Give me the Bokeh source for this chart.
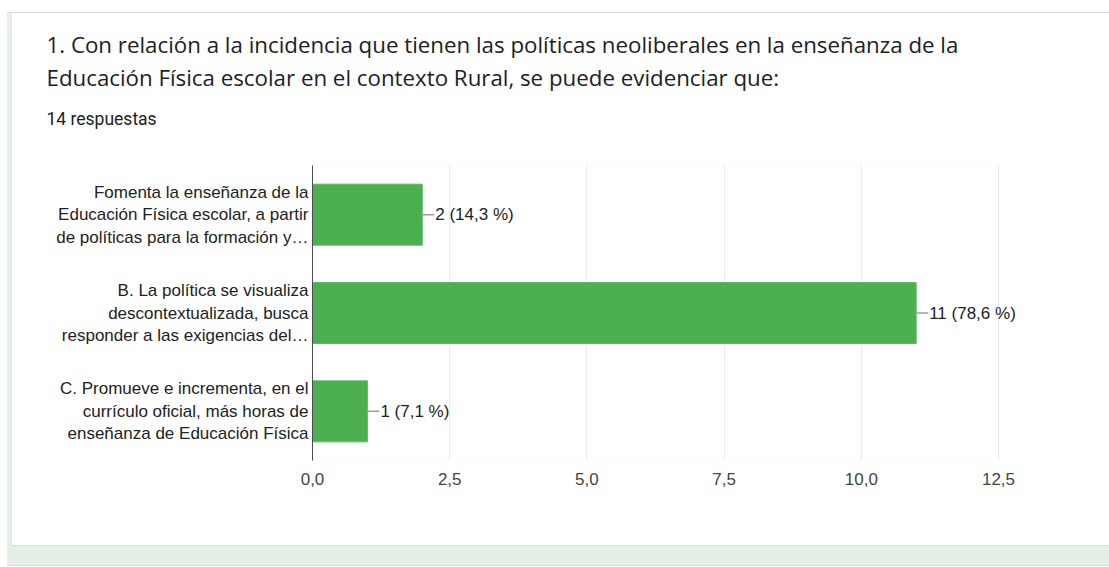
from bokeh.plotting import figure
from bokeh.models import Range1d, FactorRange, BoxAnnotation, CustomJSTickFormatter, Title
from bokeh.core.properties import value
from bokeh.embed import file_html
from bokeh.resources import INLINE

# ---- data ----
title_lines = [
    "1. Con relación a la incidencia que tienen las políticas neoliberales en la enseñanza de la",
    "Educación Física escolar en el contexto Rural, se puede evidenciar que:",
]
subtitle = "14 respuestas"
categories = [
    ["Fomenta la enseñanza de la", "Educación Física escolar, a partir", "de políticas para la formación y…"],
    ["B. La política se visualiza", "descontextualizada, busca", "responder a las exigencias del…"],
    ["C. Promueve e incrementa, en el", "currículo oficial, más horas de", "enseñanza de Educación Física"],
]
counts = [2, 11, 1]
total = 14
x_ticks = [0, 2.5, 5, 7.5, 10, 12.5]

W, H = 1109, 567
LEFT, RIGHT, TOP, BOTTOM = 312, 4, 165, 107
AXIS_PX = 686  # pixels from 0 to the last tick
TEXT = "#202124"
CHART_FONT = "Liberation Sans"

factors = ["\n".join(lines) for lines in categories]
x_end = x_ticks[-1] * (W - LEFT - RIGHT) / AXIS_PX

p = figure(width=W, height=H, x_range=Range1d(0, x_end),
           y_range=FactorRange(*reversed(factors), range_padding=0),
           output_backend="svg", toolbar_location=None,
           min_border_left=LEFT, min_border_right=RIGHT, min_border_top=TOP, min_border_bottom=BOTTOM)
p.border_fill_color = None
p.background_fill_color = "white"
p.outline_line_color = None
p.styles = {
    "background":
        "linear-gradient(#dadce0,#dadce0) 7px 12px / 100% 1px no-repeat,"
        "linear-gradient(#e3e6e3,#e3e6e3) 11px 12px / 1px 533px no-repeat,"
        "linear-gradient(#dadce0,#dadce0) 11px 545px / 100% 1px no-repeat,"
        "linear-gradient(#dadce0,#dadce0) 7px 565px / 100% 1px no-repeat,"
        "linear-gradient(#ffffff,#ffffff) 11px 12px / 100% 533px no-repeat,"
        "linear-gradient(#e4f0e5,#e4f0e5) 7px 12px / 100% 553px no-repeat,"
        "#ffffff"
}

# chart border 0 .. last tick
p.add_layout(BoxAnnotation(left=0, right=x_ticks[-1], fill_alpha=0, line_color="#e6e6e6", line_width=1))

# x axis
p.xaxis.ticker = x_ticks
p.xaxis.formatter = CustomJSTickFormatter(code="return tick.toFixed(1).replace('.', ',');")
p.xaxis.axis_line_color = None
p.xaxis.major_tick_line_color = None
p.xaxis.minor_tick_line_color = None
p.xaxis.major_tick_out = 0
p.xaxis.major_tick_in = 0
p.xaxis.major_label_standoff = 12
p.xaxis.major_label_text_font = CHART_FONT
p.xaxis.major_label_text_font_size = "17px"
p.xaxis.major_label_text_color = "#444444"
p.xgrid.grid_line_color = "#ebebeb"
p.ygrid.visible = False

# y axis (categories)
p.yaxis.axis_line_color = "#333333"
p.yaxis.major_tick_line_color = None
p.yaxis.minor_tick_line_color = None
p.yaxis.major_tick_out = 0
p.yaxis.major_tick_in = 0
p.yaxis.major_label_standoff = 4
p.yaxis.major_label_text_font = CHART_FONT
p.yaxis.major_label_text_font_size = "17px"
p.yaxis.major_label_text_color = "#222222"
p.yaxis.major_label_text_line_height = 1.18

p.hbar(y=factors, left=0, right=counts, height=0.62, fill_color="#4caf50", line_color="#5db961")

# leader lines + value labels
lead = 12 * x_ticks[-1] / AXIS_PX
p.segment(x0=counts, x1=[c + lead for c in counts], y0=factors, y1=factors,
          line_color="#9e9e9e", line_width=1.5)
value_labels = []
for c in counts:
    pct = f"{c / total * 100:.1f}".replace(".", ",")
    value_labels.append(f"{c} ({pct} %)")
p.text(x=counts, y=factors, text=value_labels, x_offset=13,
       text_font=value(CHART_FONT), text_font_size="17px", text_color="#222222",
       text_baseline="middle", text_align="left")

# title block (stacked from the frame upwards)
OFF = 46 - LEFT
p.add_layout(Title(text=" ", align="left", offset=OFF, standoff=10,
                   text_font=CHART_FONT, text_font_size="10px", text_font_style="normal"), "above")
p.add_layout(Title(text=subtitle, align="left", offset=OFF, standoff=27.4,
                   text_font="Roboto", text_font_size="17.5px", text_color=TEXT,
                   text_font_style="normal"), "above")
p.add_layout(Title(text=title_lines[1], align="left", offset=OFF, standoff=1.2,
                   text_font="Open Sans", text_font_size="22.3px", text_color=TEXT,
                   text_font_style="normal"), "above")
p.add_layout(Title(text=title_lines[0], align="left", offset=OFF, standoff=0,
                   text_font="Open Sans", text_font_size="22.3px", text_color=TEXT,
                   text_font_style="normal"), "above")

open("out.html", "w").write(file_html(p, INLINE))
